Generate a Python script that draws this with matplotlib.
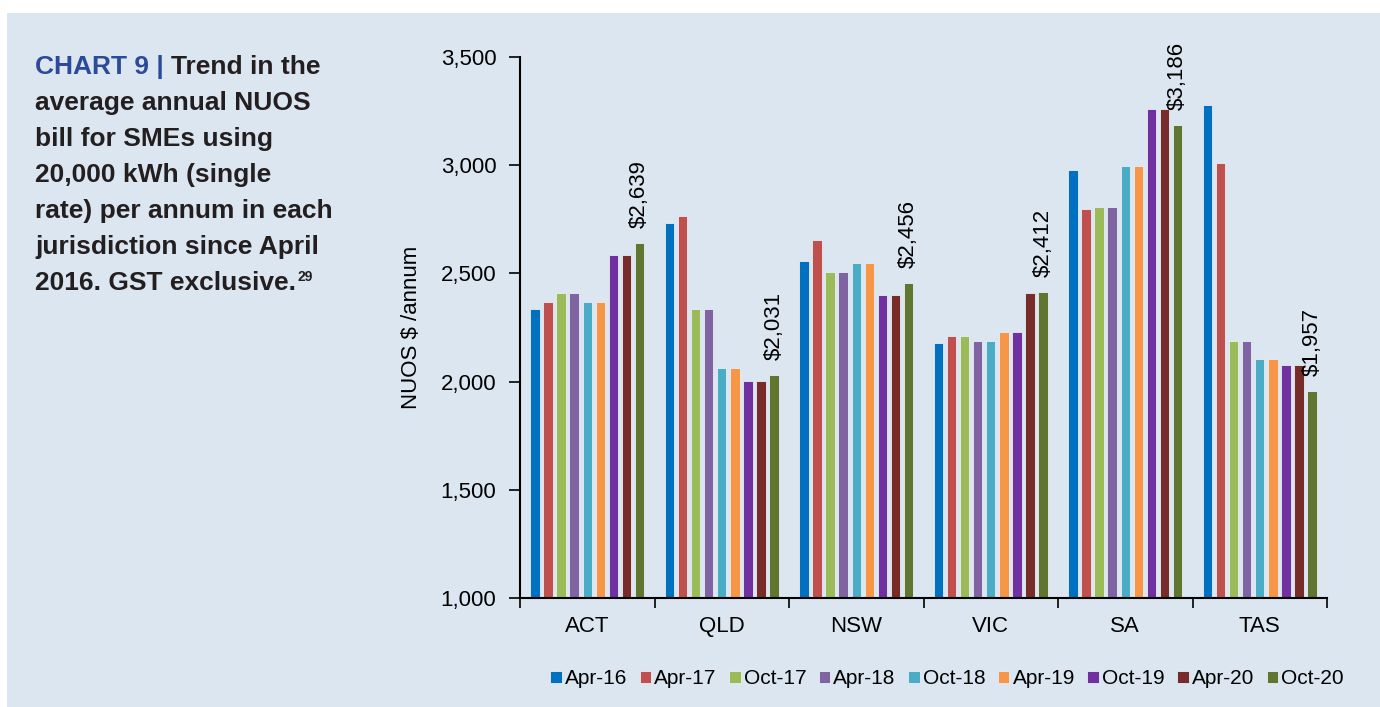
import matplotlib.pyplot as plt
import matplotlib.patches as patches
import numpy as np

plt.rcParams['font.family'] = ['Liberation Sans', 'DejaVu Sans']

# data
states = ['ACT', 'QLD', 'NSW', 'VIC', 'SA', 'TAS']
periods = ['Apr-16', 'Apr-17', 'Oct-17', 'Apr-18', 'Oct-18',
           'Apr-19', 'Oct-19', 'Apr-20', 'Oct-20']
apr16 = [2335, 2734, 2556, 2180, 2976, 3280]
apr17 = [2366, 2765, 2653, 2211, 2798, 3009]
oct17 = [2408, 2335, 2505, 2211, 2808, 2189]
apr18 = [2408, 2335, 2505, 2189, 2808, 2189]
oct18 = [2366, 2063, 2547, 2189, 2998, 2106]
apr19 = [2366, 2063, 2547, 2231, 2998, 2106]
oct19 = [2586, 2001, 2399, 2231, 3260, 2075]
apr20 = [2586, 2001, 2399, 2409, 3260, 2075]
oct20 = [2639, 2031, 2456, 2412, 3186, 1957]
series = [apr16, apr17, oct17, apr18, oct18, apr19, oct19, apr20, oct20]
labels_oct20 = ['$2,639', '$2,031', '$2,456', '$2,412', '$3,186', '$1,957']

colours = ['#0070C0', '#C0504D', '#9BBB59', '#8064A2', '#4BACC6',
           '#F79646', '#7030A0', '#772C2A', '#5F7530']

fig = plt.figure(figsize=(13.8, 7.07), dpi=100, facecolor='white')

# light blue panel behind everything
bg = patches.Rectangle((7 / 1380, 0), 1, 1 - 13 / 707, transform=fig.transFigure,
                       facecolor='#DCE6F1', edgecolor='none', zorder=-10)
fig.patches.append(bg)

ax = fig.add_axes([520 / 1380, 1 - 598 / 707, 807 / 1380, 541 / 707])
ax.set_facecolor('none')

centres = np.arange(len(states)) + 0.5
pitch = 0.0974
width = 0.07
for i, vals in enumerate(series):
    ax.bar(centres + (i - 4) * pitch, vals, width=width, color=colours[i],
           edgecolor='#E8EEF6', linewidth=0.6, label=periods[i], zorder=2)

for c, v, txt in zip(centres, oct20, labels_oct20):
    ax.annotate(txt.replace('$', r'\$'), (c + 4 * pitch, v), xytext=(0, 15),
                textcoords='offset pixels', rotation=90, ha='center',
                va='bottom', fontsize=16, color='black')

ax.set_xlim(0, 6)
ax.set_ylim(1000, 3500)
ax.set_yticks([1000, 1500, 2000, 2500, 3000, 3500])
ax.set_yticklabels(['1,000', '1,500', '2,000', '2,500', '3,000', '3,500'])
ax.tick_params(axis='y', length=8, width=1.2, pad=9, labelsize=16)

ax.set_xticks(np.arange(0, 7))
ax.set_xticklabels([])
ax.tick_params(axis='x', which='major', length=7, width=1.2, direction='out')
ax.set_xticks(centres, minor=True)
ax.set_xticklabels(states, minor=True, fontsize=16)
ax.tick_params(axis='x', which='minor', length=0, pad=13)

for s in ['top', 'right']:
    ax.spines[s].set_visible(False)
for s in ['left', 'bottom']:
    ax.spines[s].set_linewidth(1.5)

ax.set_ylabel('NUOS $ /annum', fontsize=16)
ax.yaxis.set_label_coords(-0.121, 0.5)

fig.legend(loc='center', bbox_to_anchor=(947 / 1380, 1 - 679 / 707), ncol=9,
           frameon=False, fontsize=15, handlelength=0.55, handleheight=0.55,
           handletextpad=0.15, columnspacing=0.6)

# title block on the left
renderer = fig.canvas.get_renderer()
title_lines = ['average annual NUOS', 'bill for SMEs using',
               '20,000 kWh (single', 'rate) per annum in each',
               'jurisdiction since April', '2016. GST exclusive.']
x0 = 35 / 1380
y0 = 1 - 74 / 707
dy = 36 / 707
tsize = 19
dark = '#231F20'
t1 = fig.text(x0, y0, 'CHART 9 | ', color='#2B4A9A', fontsize=tsize,
              fontweight='bold', va='baseline')
bb = t1.get_window_extent(renderer)
fig.text(bb.x1 / 1380, y0, 'Trend in the', color=dark, fontsize=tsize,
         fontweight='bold', va='baseline')
for k, line in enumerate(title_lines):
    t = fig.text(x0, y0 - (k + 1) * dy, line, color=dark, fontsize=tsize,
                 fontweight='bold', va='baseline')
bb = t.get_window_extent(renderer)
fig.text(bb.x1 / 1380 + 0.001, y0 - 6 * dy + 9 / 707, '29', color=dark,
         fontsize=10, fontweight='bold', va='baseline')

fig.savefig('out.png', dpi=100, facecolor='white')
